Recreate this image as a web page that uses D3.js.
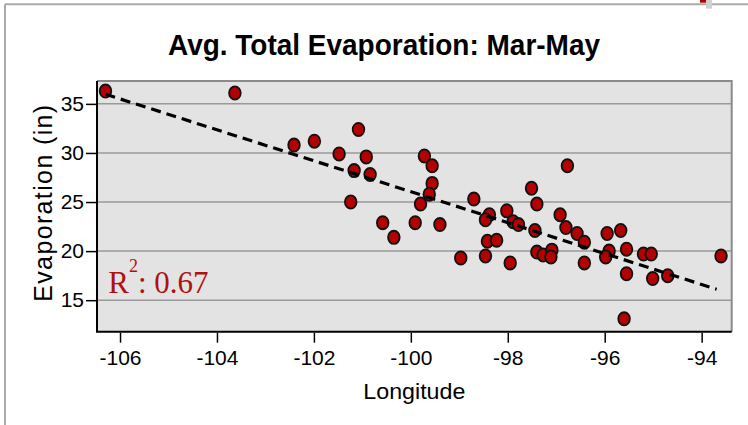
<!DOCTYPE html>
<html>
<head>
<meta charset="utf-8">
<script src="https://cdn.jsdelivr.net/npm/d3@7"></script>
<style>
  body { margin: 0; background: #fff; }
  svg { display: block; }
</style>
</head>
<body>
<svg id="chart"></svg>
<script>
// Longitude / evaporation pairs
const longitude = [
    -106.30, -103.63, -102.41, -101.99, -101.08, -101.48, -100.92, -101.17,
    -100.84, -101.24, -100.58, -100.35, -99.91, -99.72, -99.56, -99.56,
    -99.62, -99.80, -99.40, -98.70, -98.38, -98.46, -98.97, -98.46,
    -98.42, -98.23, -98.02, -97.89, -97.78, -97.95, -97.51, -97.40,
    -97.44, -97.40, -97.27, -97.09, -97.11, -96.77, -96.92, -96.80,
    -96.57, -96.42, -96.42, -95.95, -95.67, -95.91, -95.98, -95.55,
    -95.55, -95.20, -95.04, -95.01, -94.70, -95.60, -93.60
];
const evaporation = [
    36.3, 36.1, 30.8, 31.2, 32.4, 29.9, 29.6, 28.2,
    27.8, 25.0, 22.9, 21.4, 22.9, 29.7, 28.7, 26.9,
    25.8, 24.8, 22.7, 25.3, 23.7, 23.2, 19.3, 19.5,
    21.0, 21.1, 24.1, 23.0, 22.7, 18.8, 26.4, 24.8,
    22.1, 19.9, 19.6, 20.1, 19.4, 28.7, 23.7, 22.4,
    21.8, 20.9, 18.8, 21.8, 22.1, 20.0, 19.4, 20.2,
    17.7, 19.7, 19.7, 17.2, 17.5, 13.1, 19.5
];

// trend line ends as drawn
const trendLon = [-106.30, -93.69];
const trendEvap = [35.98, 16.11];

const xTicks = [-106, -104, -102, -100, -98, -96, -94];
const yTicks = [15, 20, 25, 30, 35];

const title = "Avg. Total Evaporation: Mar-May";
const xLabel = "Longitude";
const yLabel = "Evaporation (in)";

const width = 748;
const height = 425;
const plot = { left: 97, right: 731.7, top: 81, bottom: 331.7 };

const svg = d3.select("#chart").attr("width", width).attr("height", height);

// outer frame (top and left edges only)
svg.append("line")
    .attr("x1", 5).attr("x2", width).attr("y1", 4.3).attr("y2", 4.3)
    .attr("stroke", "#aaa").attr("stroke-width", 2);
svg.append("line")
    .attr("x1", 5).attr("x2", 5).attr("y1", 4.3).attr("y2", height)
    .attr("stroke", "#aaa").attr("stroke-width", 2);
svg.append("rect").attr("x", 706).attr("y", 0).attr("width", 6).attr("height", 8.7).attr("fill", "#d0d0d0");
svg.append("rect").attr("x", 700).attr("y", 0).attr("width", 6).attr("height", 2.7).attr("fill", "#b00000");

// scales
const x = d3.scaleLinear().domain([-106.475, -93.38]).range([plot.left, plot.right]);
const y = d3.scaleLinear().domain([11.79, 37.33]).range([plot.bottom, plot.top]);

// plot background
svg.append("rect")
    .attr("x", plot.left).attr("y", plot.top)
    .attr("width", plot.right - plot.left).attr("height", plot.bottom - plot.top)
    .attr("fill", "#e3e3e3");

// grid lines
svg.append("g")
    .selectAll("line")
    .data(yTicks)
    .enter()
    .append("line")
    .attr("x1", plot.left).attr("x2", plot.right)
    .attr("y1", (d) => y(d)).attr("y2", (d) => y(d))
    .attr("stroke", "#9a9a9a").attr("stroke-width", 1.5);

// plot frame: gray top/right, black left/bottom
svg.append("path")
    .attr("d", `M${plot.left},${plot.top}H${plot.right}V${plot.bottom}`)
    .attr("fill", "none").attr("stroke", "#8a8a8a").attr("stroke-width", 2);
svg.append("path")
    .attr("d", `M${plot.left},${plot.top}V${plot.bottom}H${plot.right}`)
    .attr("fill", "none").attr("stroke", "#000").attr("stroke-width", 2);

// axes
const xAxis = svg.append("g")
    .attr("transform", `translate(0,${plot.bottom + 1})`)
    .call(d3.axisBottom(x).tickValues(xTicks).tickSize(10).tickSizeOuter(0).tickPadding(7).tickFormat((d) => String(d)));
const yAxis = svg.append("g")
    .attr("transform", `translate(${plot.left - 1},0)`)
    .call(d3.axisLeft(y).tickValues(yTicks).tickSize(10).tickSizeOuter(0).tickPadding(2).tickFormat((d) => String(d)));

[xAxis, yAxis].forEach((g) => {
    g.select(".domain").remove();
    g.selectAll(".tick line").attr("stroke", "#000").attr("stroke-width", 1.5);
    g.selectAll(".tick text")
        .attr("fill", "#000")
        .style("font-family", "'Liberation Sans', Arial, sans-serif")
        .style("font-size", "21px");
});

// points
const points = longitude.map((lon, i) => ({ lon: lon, evap: evaporation[i] }));
svg.append("g")
    .selectAll("ellipse")
    .data(points)
    .enter()
    .append("ellipse")
    .attr("cx", (d) => x(d.lon))
    .attr("cy", (d) => y(d.evap))
    .attr("rx", 5.8)
    .attr("ry", 6.6)
    .attr("fill", "#b30000")
    .attr("stroke", "#111")
    .attr("stroke-width", 1.8);

// trend line drawn over points, as in the picture
svg.append("line")
    .attr("x1", x(trendLon[0])).attr("y1", y(trendEvap[0]))
    .attr("x2", x(trendLon[1])).attr("y2", y(trendEvap[1]))
    .attr("stroke", "#000").attr("stroke-width", 3.2)
    .attr("stroke-dasharray", "10,6");

// R squared label
const r2 = svg.append("text")
    .attr("x", 108.3).attr("y", 293.3)
    .attr("fill", "#b01010")
    .style("font-family", "'Liberation Serif', 'Times New Roman', serif")
    .style("font-size", "31px");
r2.append("tspan").text("R");
r2.append("tspan").attr("dy", -21).style("font-size", "18px").text("2");
r2.append("tspan").attr("dy", 21).text(": 0.67");

// title
svg.append("text")
    .attr("x", 384).attr("y", 54.5)
    .attr("text-anchor", "middle")
    .attr("textLength", 432).attr("lengthAdjust", "spacingAndGlyphs")
    .style("font-family", "'Liberation Sans Narrow', 'Arial Narrow', 'Liberation Sans', sans-serif")
    .style("font-weight", "bold")
    .style("font-size", "29px")
    .text(title);

// axis titles
svg.append("text")
    .attr("x", (plot.left + plot.right) / 2).attr("y", 399.3)
    .attr("text-anchor", "middle")
    .attr("textLength", 102).attr("lengthAdjust", "spacingAndGlyphs")
    .style("font-family", "'Liberation Sans', Arial, sans-serif")
    .style("font-size", "22.5px")
    .text(xLabel);

svg.append("text")
    .attr("transform", "translate(51.5,203.3) rotate(-90)")
    .attr("text-anchor", "middle")
    .attr("textLength", 197).attr("lengthAdjust", "spacing")
    .style("font-family", "'Liberation Sans', Arial, sans-serif")
    .style("font-size", "25px")
    .text(yLabel);
</script>
</body>
</html>
